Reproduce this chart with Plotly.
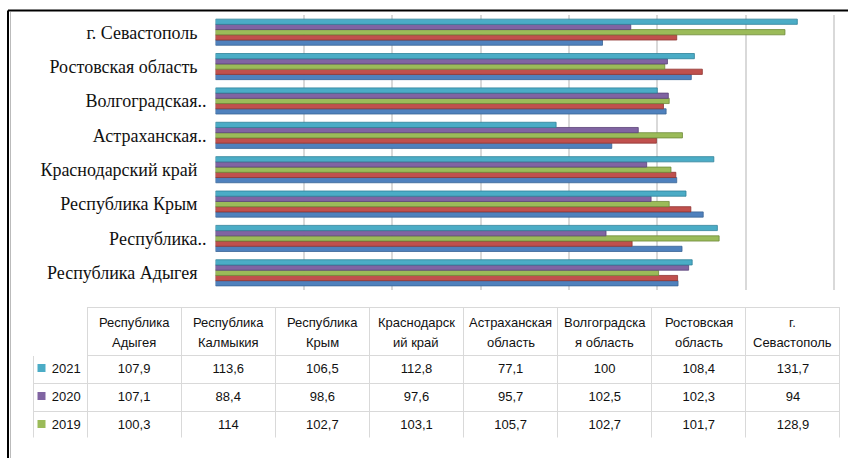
import plotly.graph_objects as go

# regions, bottom to top on the chart (same order as the table columns)
regions = ['Республика Адыгея', 'Республика Калмыкия', 'Республика Крым',
           'Краснодарский край', 'Астраханская область', 'Волгоградская область',
           'Ростовская область', 'г. Севастополь']
axis_labels = ['Республика Адыгея\u00a0\u00a0', 'Республика..', 'Республика Крым\u00a0\u00a0',
               'Краснодарский край\u00a0\u00a0', 'Астраханская..', 'Волгоградская..',
               'Ростовская область\u00a0\u00a0', 'г. Севастополь\u00a0\u00a0']
table_heads = ['Республика<br>Адыгея', 'Республика<br>Калмыкия', 'Республика<br>Крым',
               'Краснодарск<br>ий край', 'Астраханская<br>область', 'Волгоградска<br>я область',
               'Ростовская<br>область', 'г.<br>Севастополь']

v2021 = [107.9, 113.6, 106.5, 112.8, 77.1, 100, 108.4, 131.7]
v2020 = [107.1, 88.4, 98.6, 97.6, 95.7, 102.5, 102.3, 94]
v2019 = [100.3, 114, 102.7, 103.1, 105.7, 102.7, 101.7, 128.9]
# last two rows of the table are cut off in the picture
v2018 = [104.6, 94.3, 107.6, 104.2, 99.8, 101.4, 110.2, 104.4]
v2017 = [104.7, 105.6, 110.4, 104.4, 89.7, 102.0, 107.7, 87.6]

W, H = 848, 458


def px(x):
    return x / W


def py(y):
    return 1 - y / H


series = [('2017', v2017, '#4f81bd', '#3a6496'),
          ('2018', v2018, '#c0504d', '#8f3431'),
          ('2019', v2019, '#9bbb59', '#6f8a3a'),
          ('2020', v2020, '#8064a2', '#5a4479'),
          ('2021', v2021, '#4bacc6', '#2f8199')]

fig = go.Figure()
for name, vals, col, edge in series:
    fig.add_trace(go.Bar(x=vals, y=regions, orientation='h', name=name,
                         marker=dict(color=col, line=dict(color=edge, width=0.8)),
                         showlegend=False))


def fmt(v):
    return f'{v:g}'.replace('.', ',')


shown = [('2021', v2021, '#4bacc6'), ('2020', v2020, '#8064a2'), ('2019', v2019, '#9bbb59')]
columns = [['\u00a0\u00a0\u00a0' + n for n, v, c in shown]]
for i in range(len(regions)):
    columns.append([fmt(v[i]) for n, v, c in shown])

# table geometry (pixels)
tx0, tx1 = 33, 840
ty0 = 307
key_w, col_w = 54, 94
head_h, row_h = 48, 28
tfont = dict(family='Liberation Sans, Arial, sans-serif', size=13, color='#111')

fig.add_trace(go.Table(
    domain=dict(x=[px(tx0), px(tx1)], y=[py(ty0 + head_h + row_h * 3 + 2), py(ty0)]),
    columnwidth=[key_w] + [col_w] * 8,
    header=dict(values=[''] * 9, height=head_h, fill_color='white',
                line=dict(color=['white'] + ['#d9d9d9'] * 8, width=1)),
    cells=dict(values=columns, height=row_h,
               align=['left'] + ['center'] * 8, fill_color='white',
               line=dict(color='#d9d9d9', width=1), font=tfont)
))

annotations = []
scale = (tx1 - tx0) / (key_w + col_w * 8)
for i, head in enumerate(table_heads):
    cx = tx0 + (key_w + col_w * i + col_w / 2) * scale
    for j, line in enumerate(head.split('<br>')):
        annotations.append(dict(xref='paper', yref='paper', x=px(cx), y=py(ty0 + 15 + 20 * j),
                                text=line, showarrow=False, xanchor='center', yanchor='middle',
                                font=tfont))

shapes = [
    # table is cut at the bottom in the original: hide the closing line
    dict(type='line', xref='paper', yref='paper', x0=px(tx0 - 2), x1=px(tx1 + 2),
         y0=py(ty0 + head_h + row_h * 3), y1=py(ty0 + head_h + row_h * 3),
         line=dict(color='white', width=3)),
    dict(type='line', xref='paper', yref='paper', x0=px(8), x1=1, y0=py(10.5), y1=py(10.5),
         line=dict(color='black', width=2)),
    dict(type='line', xref='paper', yref='paper', x0=px(8), x1=px(8), y0=py(10.5), y1=0,
         line=dict(color='black', width=2)),
    dict(type='line', xref='paper', yref='paper', x0=px(10.5), x1=px(10.5), y0=py(12), y1=0,
         line=dict(color='#bbbbbb', width=1)),
]
# legend keys in the first table column
for k, (n, v, c) in enumerate(shown):
    cy = ty0 + head_h + row_h * k + 13
    shapes.append(dict(type='rect', xref='paper', yref='paper',
                       x0=px(37.5), x1=px(45.5), y0=py(cy - 4), y1=py(cy + 4),
                       fillcolor=c, line=dict(width=0)))

fig.update_layout(
    width=W, height=H,
    margin=dict(l=0, r=0, t=0, b=0),
    paper_bgcolor='white', plot_bgcolor='white',
    barmode='group', bargap=0.24, bargroupgap=0,
    xaxis=dict(domain=[px(215.5), px(836.2)], range=[0, 140.5], dtick=20,
               showgrid=True, gridcolor='#d9d9d9', gridwidth=1.5,
               showticklabels=False, zeroline=False, showline=False, ticks=''),
    yaxis=dict(domain=[py(290), py(15)], tickvals=regions, ticktext=axis_labels,
               showgrid=False, zeroline=False, showline=False, ticks='',
               ticklabelstandoff=8,
               tickfont=dict(family='Liberation Serif, Times New Roman, serif', size=18, color='#111')),
    shapes=shapes,
    annotations=annotations,
)

fig.write_html('out.html', config={'displayModeBar': False},
               post_script="document.body.style.margin='0';")
